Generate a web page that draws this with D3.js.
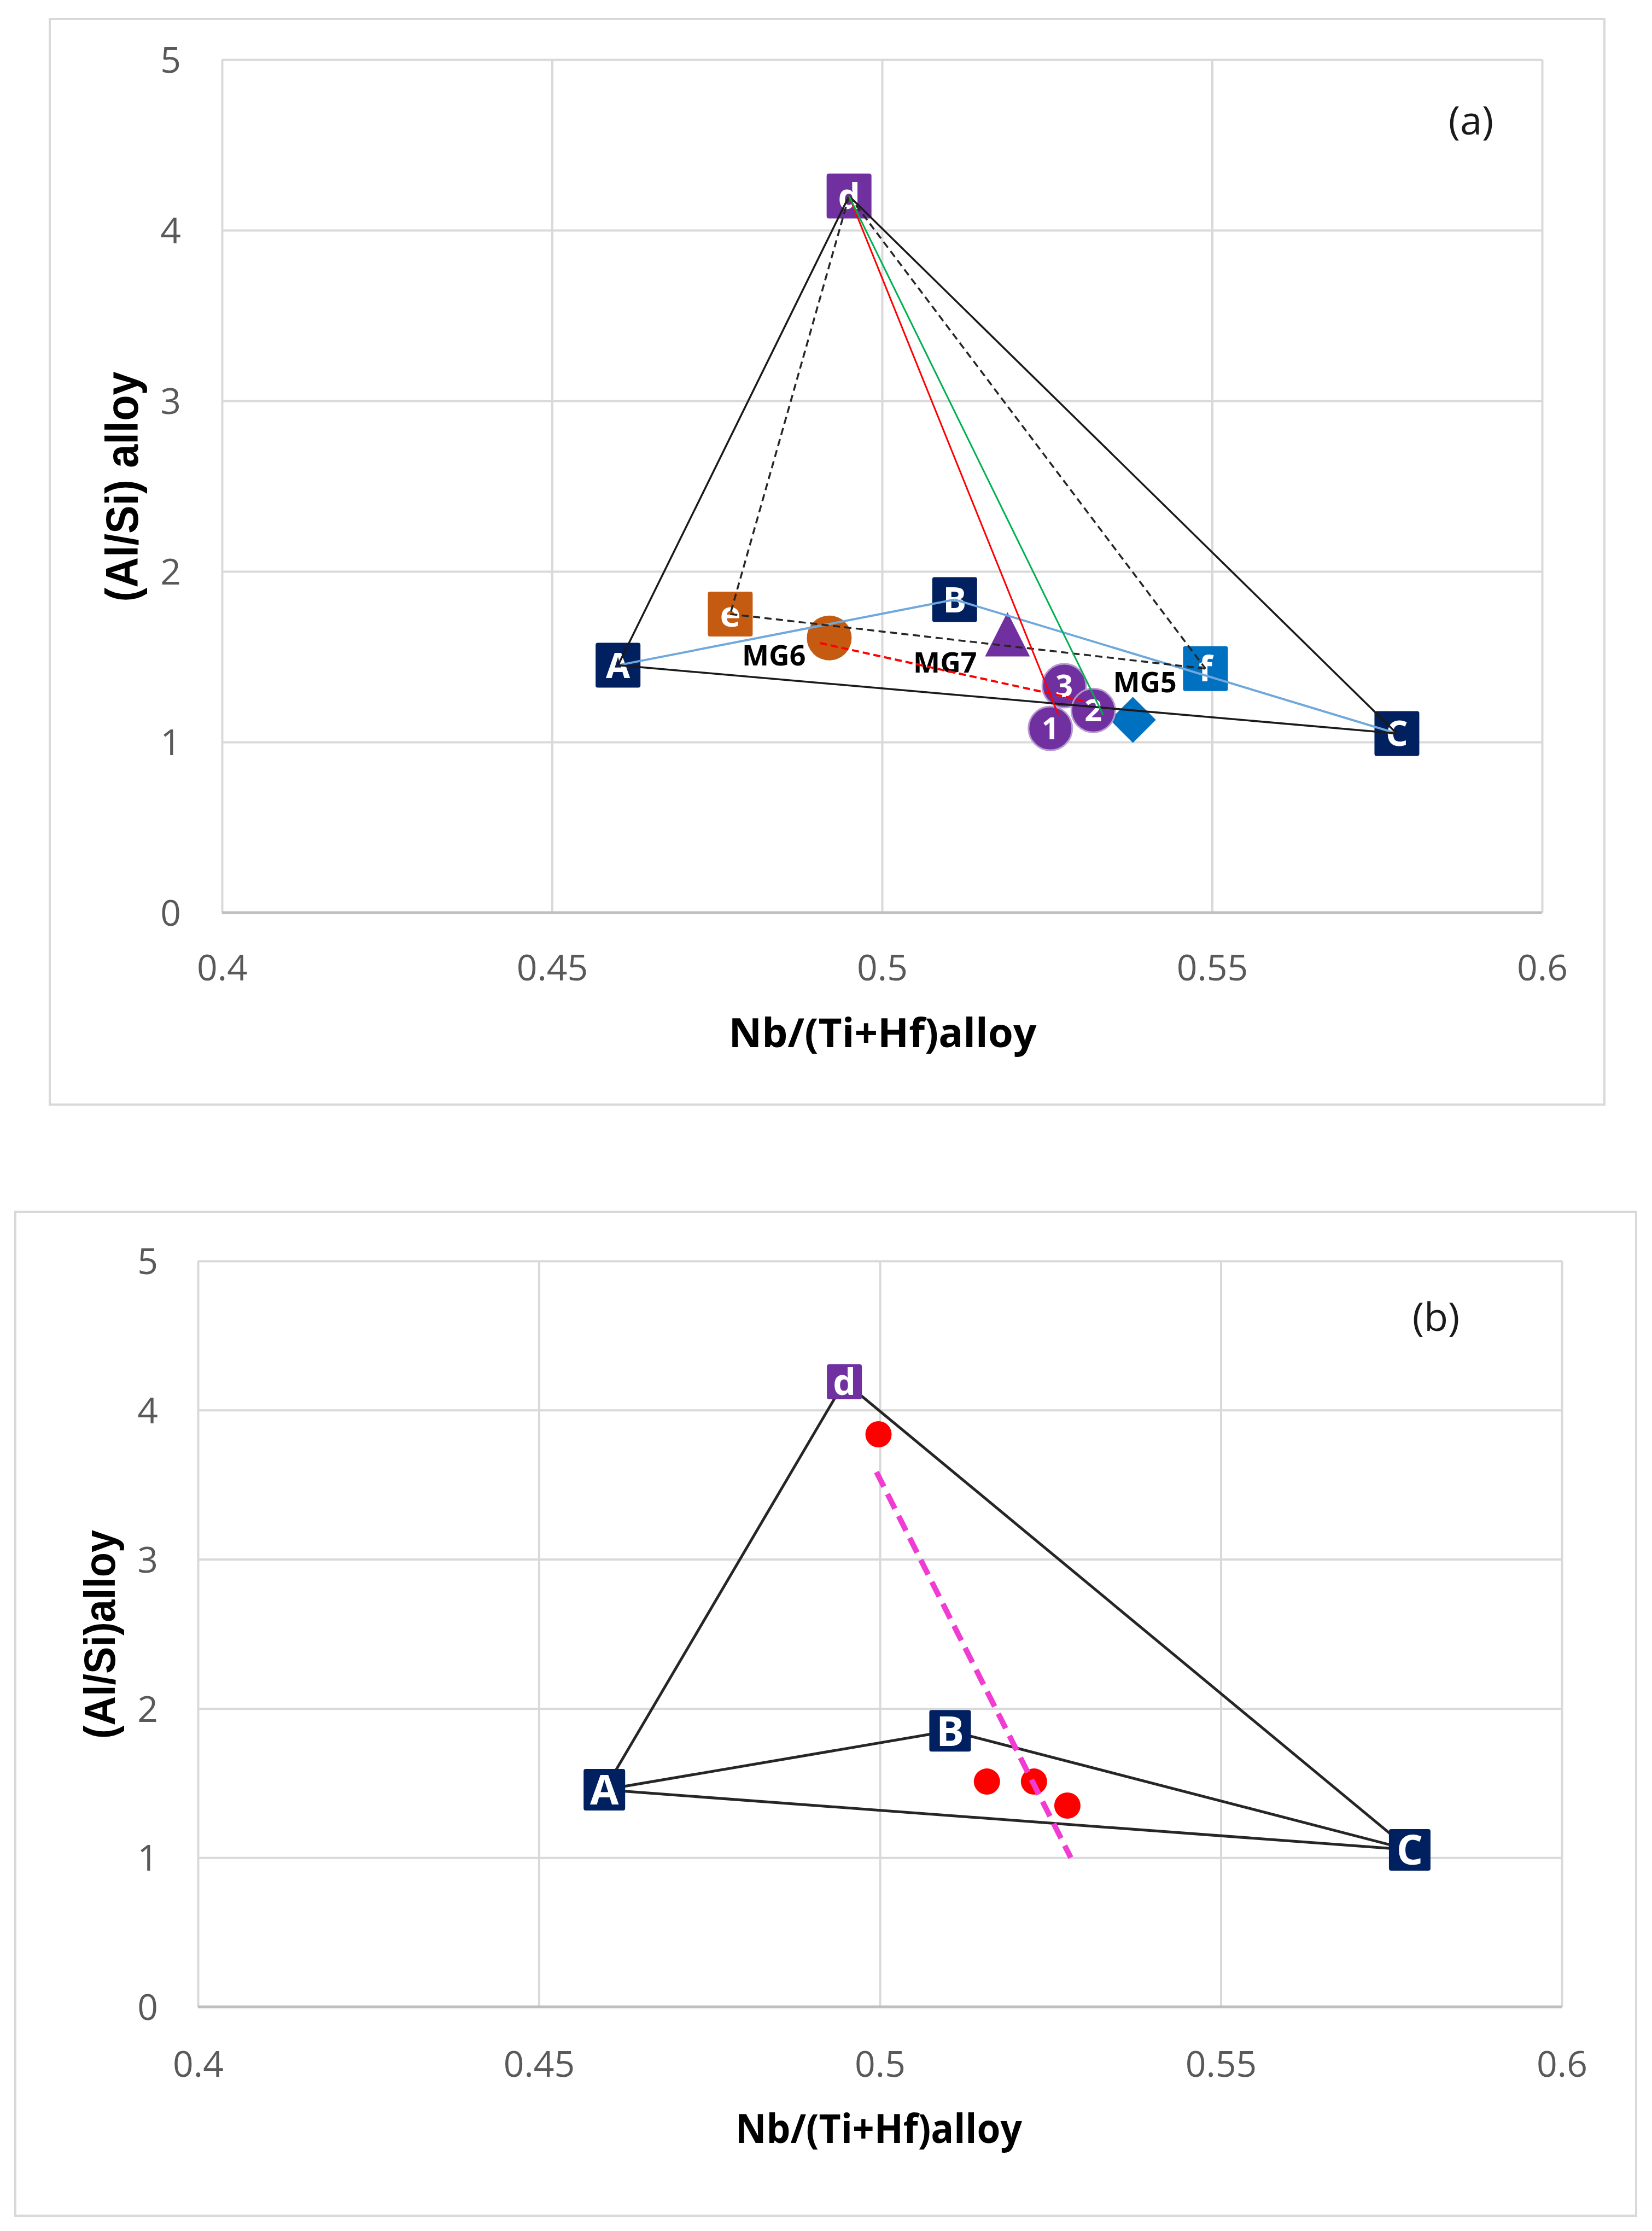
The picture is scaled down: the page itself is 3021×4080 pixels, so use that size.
<!DOCTYPE html>
<html lang="en">
<head>
  <meta charset="UTF-8">
  <title>Nb/(Ti+Hf) vs Al/Si</title>
  <style>
    body { margin: 0; background: #fff; }
    svg { display: block; }
  </style>
  <script src="https://d3js.org/d3.v7.min.js"></script>
</head>
<body>
  <svg id="chart" width="3021" height="4080"></svg>

  <script>
    // axis ticks shared by both panels
    const xTicks = [0.4, 0.45, 0.5, 0.55, 0.6];
    const yTicks = [0, 1, 2, 3, 4, 5];

    // panel (a): corner points
    const cornerNamesA = ["A", "B", "C", "d", "e", "f"];
    const cornerXA = [0.460, 0.511, 0.578, 0.495, 0.477, 0.549];
    const cornerYA = [1.45, 1.835, 1.05, 4.2, 1.75, 1.43];

    // panel (a): alloys
    const alloyNames = ["MG6", "MG7", "MG5"];
    const alloyX = [0.492, 0.519, 0.538];
    const alloyY = [1.61, 1.63, 1.13];

    // panel (a): numbered points (drawn 3, 2, 1)
    const numNames = ["3", "2", "1"];
    const numX = [0.5276, 0.532, 0.5255];
    const numY = [1.33, 1.185, 1.08];

    // panel (a): edges between corners
    const blackEdgesA = [["A", "d"], ["d", "C"], ["A", "C"]];
    const blueEdgesA = [["A", "B"], ["B", "C"]];
    const dashedEdgesA = [["d", "e"], ["e", "f"], ["d", "f"]];
    const redLineA = [[0.495, 4.2], [0.5267, 1.16]];
    const greenLineA = [[0.495, 4.2], [0.5335, 1.16]];
    const redDashA = [[0.4906, 1.58], [0.5307, 1.24]];

    // panel (b)
    const cornerNamesB = ["A", "B", "C", "d"];
    const cornerXB = [0.4596, 0.5103, 0.5777, 0.4948];
    const cornerYB = [1.455, 1.85, 1.052, 4.19];
    const edgesB = [["A", "d"], ["d", "C"], ["A", "B"], ["B", "C"], ["A", "C"]];
    const dotX = [0.4998, 0.5157, 0.5226, 0.5275];
    const dotY = [3.838, 1.51, 1.51, 1.349];
    const trendB = [[0.4995, 3.585], [0.528, 1.0]];

    const navy = "#002060", purple = "#7030A0", orange = "#C55A11", blue = "#0070C0";
    const cornerColor = { A: navy, B: navy, C: navy, d: purple, e: orange, f: blue };

    const svg = d3.select("#chart");
    svg.append("rect").attr("width", 3021).attr("height", 4080).attr("fill", "#fff");

    // frame, gridlines, tick labels and titles of one panel
    function drawFrame(g, x, y, o) {
      g.append("rect")
        .attr("x", o.box[0]).attr("y", o.box[1])
        .attr("width", o.box[2]).attr("height", o.box[3])
        .attr("fill", "#fff").attr("stroke", "#D9D9D9").attr("stroke-width", 4);

      const w = x(0.6) - x(0.4), h = y(0) - y(5);

      g.append("g")
        .attr("transform", `translate(0,${y(0)})`)
        .call(d3.axisBottom(x).tickValues(xTicks).tickSize(-h).tickFormat(""))
        .call(s => s.select(".domain").remove())
        .selectAll("line").attr("stroke", "#D9D9D9").attr("stroke-width", 4);

      g.append("g")
        .attr("transform", `translate(${x(0.4)},0)`)
        .call(d3.axisLeft(y).tickValues(yTicks).tickSize(-w).tickFormat(""))
        .call(s => s.select(".domain").remove())
        .selectAll("line").attr("stroke", "#D9D9D9").attr("stroke-width", 4);

      g.append("line")
        .attr("x1", x(0.4)).attr("x2", x(0.6))
        .attr("y1", y(0)).attr("y2", y(0))
        .attr("stroke", "#BFBFBF").attr("stroke-width", 5);

      const xa = g.append("g")
        .attr("transform", `translate(0,${y(0)})`)
        .call(d3.axisBottom(x).tickValues(xTicks).tickSize(0).tickFormat(d => String(d)));
      xa.select(".domain").remove();
      xa.attr("font-family", "'Open Sans', sans-serif").attr("font-size", 66);
      xa.selectAll("text").attr("y", o.xLabelDy).attr("dy", 0).attr("fill", "#595959");

      const ya = g.append("g")
        .attr("transform", `translate(${x(0.4)},0)`)
        .call(d3.axisLeft(y).tickValues(yTicks).tickSize(0).tickFormat(d => String(d)));
      ya.select(".domain").remove();
      ya.attr("font-family", "'Open Sans', sans-serif").attr("font-size", 66);
      ya.selectAll("text").attr("x", -o.yLabelDx).attr("dy", "0.36em").attr("fill", "#595959");

      g.append("text")
        .attr("x", o.xTitle[0]).attr("y", o.xTitle[1])
        .attr("text-anchor", "middle")
        .attr("font-family", "'Open Sans', sans-serif").attr("font-weight", "bold")
        .attr("font-size", 73)
        .attr("textLength", o.xTitle[2]).attr("lengthAdjust", "spacingAndGlyphs")
        .text("Nb/(Ti+Hf)alloy");

      g.append("text")
        .attr("transform", `translate(${o.yTitle[0]},${o.yTitle[1]}) rotate(-90)`)
        .attr("text-anchor", "middle")
        .attr("font-family", "'Liberation Sans', Arial, sans-serif").attr("font-weight", "bold")
        .attr("font-size", o.yTitle[3])
        .attr("textLength", o.yTitle[2]).attr("lengthAdjust", "spacingAndGlyphs")
        .text(o.yTitleText);

      g.append("text")
        .attr("x", o.tag[0]).attr("y", o.tag[1])
        .attr("text-anchor", "middle")
        .attr("font-family", "'Open Sans', sans-serif").attr("font-size", 72)
        .attr("fill", "#1a1a1a")
        .text(o.tagText);
    }

    function squareMarker(g, cx, cy, size, color, label, fs) {
      g.append("rect")
        .attr("x", cx - size / 2).attr("y", cy - size / 2)
        .attr("width", size).attr("height", size).attr("rx", 4)
        .attr("fill", color);
      g.append("text")
        .attr("x", cx).attr("y", cy).attr("dy", "0.36em")
        .attr("text-anchor", "middle")
        .attr("font-family", "'Open Sans', sans-serif").attr("font-weight", "bold")
        .attr("font-size", fs).attr("fill", "#fff")
        .text(label);
    }

    function segment(g, x, y, p, q, color, width, dash) {
      g.append("line")
        .attr("x1", x(p[0])).attr("y1", y(p[1]))
        .attr("x2", x(q[0])).attr("y2", y(q[1]))
        .attr("stroke", color).attr("stroke-width", width)
        .attr("stroke-dasharray", dash || null);
    }

    // ---------- panel (a) ----------
    const xA = d3.scaleLinear().domain([0.4, 0.6]).range([406, 2820]);
    const yA = d3.scaleLinear().domain([0, 5]).range([1669, 109]);
    const gA = svg.append("g");

    drawFrame(gA, xA, yA, {
      box: [91, 35, 2843, 1985],
      xLabelDy: 124, yLabelDx: 75,
      xTitle: [1614, 1915, 563],
      yTitle: [252, 890, 421, 84], yTitleText: "(Al/Si) alloy",
      tag: [2690, 246], tagText: "(a)"
    });

    const ptA = {};
    cornerNamesA.forEach((n, i) => { ptA[n] = [cornerXA[i], cornerYA[i]]; });

    cornerNamesA.forEach((n, i) => {
      squareMarker(gA, xA(cornerXA[i]), yA(cornerYA[i]), 82, cornerColor[n], n, 64);
    });

    // alloys
    const mg6 = [xA(alloyX[0]), yA(alloyY[0])];
    gA.append("circle").attr("cx", mg6[0]).attr("cy", mg6[1]).attr("r", 41).attr("fill", orange);

    const mg7 = [xA(alloyX[1]), yA(alloyY[1])];
    gA.append("path")
      .attr("d", d3.line()([[mg7[0], mg7[1] - 41], [mg7[0] + 41, mg7[1] + 40], [mg7[0] - 41, mg7[1] + 40]]) + "Z")
      .attr("fill", purple);

    const mg5 = [xA(alloyX[2]), yA(alloyY[2])];
    gA.append("path")
      .attr("d", d3.line()([[mg5[0], mg5[1] - 42], [mg5[0] + 42, mg5[1]], [mg5[0], mg5[1] + 42], [mg5[0] - 42, mg5[1]]]) + "Z")
      .attr("fill", blue);

    const alloyLabelPos = [
      [mg6[0] - 43, mg6[1] + 50, "end"],
      [mg7[0] - 114, mg7[1] + 70, "middle"],
      [mg5[0] + 22, mg5[1] - 50, "middle"]
    ];
    alloyNames.forEach((n, i) => {
      gA.append("text")
        .attr("x", alloyLabelPos[i][0]).attr("y", alloyLabelPos[i][1])
        .attr("text-anchor", alloyLabelPos[i][2])
        .attr("font-family", "'Open Sans', sans-serif").attr("font-weight", "bold")
        .attr("font-size", 52).attr("fill", "#000")
        .text(n);
    });

    // numbered points
    numNames.forEach((n, i) => {
      const cx = xA(numX[i]), cy = yA(numY[i]);
      gA.append("circle").attr("cx", cx).attr("cy", cy).attr("r", 40)
        .attr("fill", purple).attr("stroke", "#b89ad0").attr("stroke-width", 3);
      gA.append("text")
        .attr("x", cx).attr("y", cy).attr("dy", "0.36em")
        .attr("text-anchor", "middle")
        .attr("font-family", "'Open Sans', sans-serif").attr("font-weight", "bold")
        .attr("font-size", 56).attr("fill", "#fff")
        .text(n);
    });

    // lines drawn over the markers
    blueEdgesA.forEach(e => segment(gA, xA, yA, ptA[e[0]], ptA[e[1]], "#6FA8DC", 4));
    blackEdgesA.forEach(e => segment(gA, xA, yA, ptA[e[0]], ptA[e[1]], "#1a1a1a", 3.5));
    dashedEdgesA.forEach(e => segment(gA, xA, yA, ptA[e[0]], ptA[e[1]], "#262626", 3.5, "13,8"));
    segment(gA, xA, yA, redLineA[0], redLineA[1], "#FF0000", 3);
    segment(gA, xA, yA, greenLineA[0], greenLineA[1], "#00B050", 3);
    segment(gA, xA, yA, redDashA[0], redDashA[1], "#FF0000", 4, "13,7");

    // ---------- panel (b) ----------
    const xB = d3.scaleLinear().domain([0.4, 0.6]).range([362, 2856]);
    const yB = d3.scaleLinear().domain([0, 5]).range([3670, 2306]);
    const gB = svg.append("g");

    drawFrame(gB, xB, yB, {
      box: [28, 2216, 2964, 1836],
      xLabelDy: 128, yLabelDx: 73,
      xTitle: [1607, 3919, 524],
      yTitle: [210, 2989, 382, 80], yTitleText: "(Al/Si)alloy",
      tag: [2626, 2434], tagText: "(b)"
    });

    const ptB = {};
    cornerNamesB.forEach((n, i) => { ptB[n] = [cornerXB[i], cornerYB[i]]; });

    edgesB.forEach(e => segment(gB, xB, yB, ptB[e[0]], ptB[e[1]], "#262626", 5));

    cornerNamesB.forEach((n, i) => {
      const size = n === "d" ? 64 : 76;
      squareMarker(gB, xB(cornerXB[i]), yB(cornerYB[i]), size, cornerColor[n], n, n === "d" ? 66 : 76);
    });

    gB.selectAll("circle.dot")
      .data(dotX.map((v, i) => [v, dotY[i]]))
      .join("circle")
      .attr("class", "dot")
      .attr("cx", d => xB(d[0])).attr("cy", d => yB(d[1]))
      .attr("r", 24).attr("fill", "#FF0000");

    segment(gB, xB, yB, trendB[0], trendB[1], "#F03CD2", 10, "30,15");
  </script>
</body>
</html>
